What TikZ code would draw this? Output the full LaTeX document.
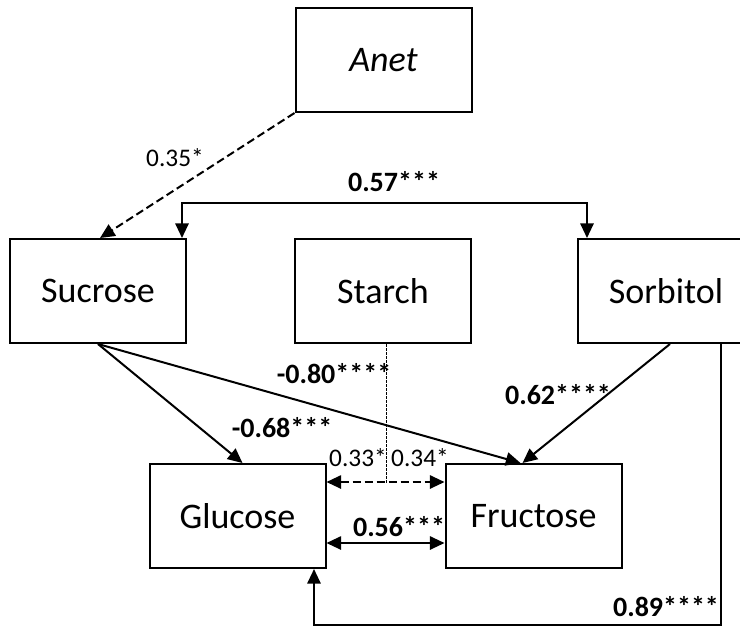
\documentclass[tikz,border=0pt]{standalone}
\usepackage{fontspec}
\setmainfont{Carlito}
\usetikzlibrary{arrows.meta,calc}

\begin{document}
\begin{tikzpicture}[x=0.75pt, y=-0.75pt,
   box/.style={draw, line width=1.5pt, minimum width=132pt, minimum height=78pt,
      inner sep=0pt, font=\fontsize{27}{32}\selectfont},
   arr/.style={line width=1.5pt, -{Triangle[length=11pt, width=10pt]}},
   both/.style={line width=1.5pt, {Triangle[length=11pt, width=10pt]}-{Triangle[length=11pt, width=10pt]}},
   dsh/.style={dash pattern=on 6pt off 3pt},
   lab/.style={inner sep=0pt, font=\fontsize{19}{22}\selectfont},
   blab/.style={inner sep=0pt, font=\bfseries\fontsize{21}{24}\selectfont}]

   \useasboundingbox (0,0) rectangle (740,626);

   \def\yt{60}; % top row
   \def\ym{291}; % middle row
   \def\yb{516}; % bottom row

   \node[box] (anet) at (383.5, \yt) {\textit{Anet}};
   \node[box] (sucrose) at (98, \ym) {Sucrose};
   \node[box] (starch) at (383, \ym) {Starch};
   \node[box] (sorbitol) at (666, \ym) {Sorbitol};
   \node[box] (glucose) at (237.5, \yb) {Glucose};
   \node[box] (fructose) at (533.5, \yb) {Fructose};

   % anet to sucrose
   \draw[arr, dsh] (anet.south west) -- ($(sucrose.north)+(2,0)$);
   \node[lab] (l35) at (175, 158) {0.35*};

   % sucrose and sorbitol
   \draw[both] ($(sucrose.north)+(84,0)$) -- ++(0,-35) -| ($(sorbitol.north)+(-79,0)$);
   \node[blab] (l57) at (394, 182) {0.57***};

   % into glucose and fructose
   \draw[arr] (sucrose.south) -- ($(glucose.north)+(5,0)$);
   \draw[arr] (sucrose.south) -- ($(fructose.north)+(-13,0)$);
   \draw[arr] ($(sorbitol.south)+(4,0)$) -- ($(fructose.north)+(-11,0)$);
   \draw[arr] ($(sorbitol.south)+(55,0)$) -- ++(0,281) -| ($(glucose.south)+(76.5,0)$);
   \node[blab] (l68) at (282, 428) {-0.68***};
   \node[blab] (l80) at (334, 374) {-0.80****};
   \node[blab] (l62) at (558, 395) {0.62****};
   \node[blab] (l89) at (666, 607) {0.89****};

   % starch link
   \draw[line width=0.6pt, dash pattern=on 2pt off 1pt] ($(starch.south)+(3,0)$) -- ($(starch.south)+(3,139)$);
   \draw[both, dsh] ($(glucose.east)+(0,-34)$) -- ($(fructose.west)+(0,-34)$);
   \node[lab] (l33) at (358, 458) {0.33*};
   \node[lab] (l34) at (420, 458) {0.34*};

   % glucose and fructose
   \draw[both] ($(glucose.east)+(0,27)$) -- ($(fructose.west)+(0,27)$);
   \node[blab] (l56) at (399, 527) {0.56***};

\end{tikzpicture}
\end{document}
